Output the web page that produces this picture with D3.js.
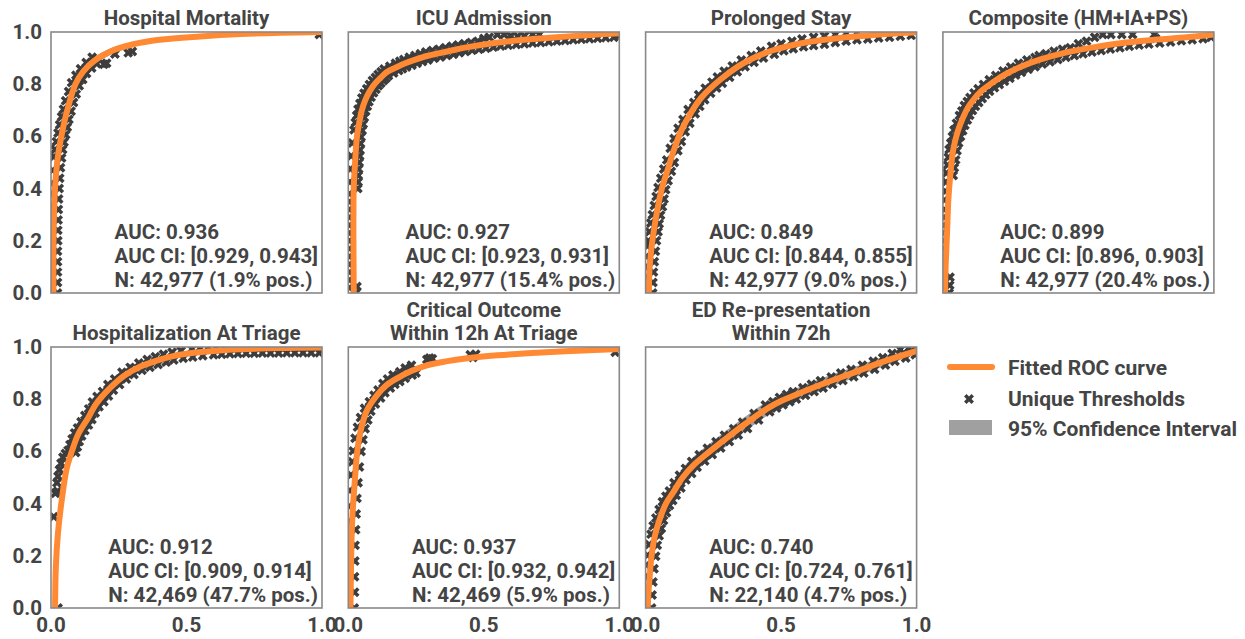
<!DOCTYPE html>
<html>
<head>
<meta charset="utf-8">
<script src="https://cdn.jsdelivr.net/npm/d3@7"></script>
<style>
  body { margin: 0; background: #fff; }
  svg text { font-family: Roboto, "Noto Sans", sans-serif; font-weight: 700; fill: #444; }
</style>
</head>
<body>
<svg id="chart" width="1245" height="639"></svg>
<script>
// ---- data ----
const titles = [
  ['Hospital Mortality'], ['ICU Admission'], ['Prolonged Stay'], ['Composite (HM+IA+PS)'],
  ['Hospitalization At Triage'], ['Critical Outcome', 'Within 12h At Triage'], ['ED Re-presentation', 'Within 72h']
];
const aucs   = [0.936, 0.927, 0.849, 0.899, 0.912, 0.937, 0.740];
const aucLo  = [0.929, 0.923, 0.844, 0.896, 0.909, 0.932, 0.724];
const aucHi  = [0.943, 0.931, 0.855, 0.903, 0.914, 0.942, 0.761];
const nCases = [42977, 42977, 42977, 42977, 42469, 42469, 22140];
const posPct = [1.9, 15.4, 9.0, 20.4, 47.7, 5.9, 4.7];

const yTicks = [0, 0.2, 0.4, 0.6, 0.8, 1.0];
const xTicks = [0, 0.5, 1.0];

// Hospital Mortality
const hmFpr = [0.009,0.009,0.011,0.016,0.025,0.04,0.06,0.09,0.12,0.16,0.23,0.3,0.4,0.55,0.7,0.85,1.0];
const hmTpr = [0,0.15,0.3,0.42,0.52,0.61,0.7,0.8,0.85,0.89,0.93,0.952,0.97,0.983,0.992,0.997,1.0];
const hmLo  = [0,0.08,0.22,0.35,0.46,0.56,0.66,0.77,0.83,0.875,0.918,0.943,0.963,0.978,0.988,0.995,1.0];
const hmHi  = [0.02,0.22,0.38,0.49,0.58,0.66,0.74,0.83,0.87,0.905,0.942,0.961,0.977,0.988,0.996,0.999,1.0];
const hmThr = [[-0.005,0.03],[-0.005,0.08],[-0.005,0.13],[-0.005,0.18],[-0.004,0.23],[-0.003,0.28],[-0.002,0.33],[0,0.38],[0.002,0.42],[0.006,0.47],[0.01,0.522],[0.015,0.55],[0.02,0.58],[0.026,0.613],[0.032,0.645],[0.039,0.675],[0.046,0.704],[0.054,0.737],[0.065,0.772],[0.076,0.806],[0.092,0.834],[0.109,0.859],[0.13,0.883],[0.152,0.903],
  [0.024,0],[0.024,0.04],[0.024,0.08],[0.024,0.12],[0.024,0.16],[0.025,0.2],[0.025,0.24],[0.026,0.28],[0.027,0.32],[0.028,0.36],[0.03,0.4],[0.032,0.44],[0.035,0.48],[0.039,0.517],[0.043,0.55],[0.048,0.578],[0.054,0.606],[0.06,0.635],[0.066,0.665],[0.074,0.696],[0.083,0.73],[0.093,0.762],[0.104,0.794],[0.117,0.818],[0.131,0.841],[0.15,0.862],[0.169,0.878],[0.195,0.876],[0.205,0.88],[0.236,0.916],[0.285,0.92],[0.3,0.925],[0.99,0.99]];

// ICU Admission
const icuFpr = [0.02,0.019,0.019,0.02,0.025,0.032,0.04,0.05,0.063,0.08,0.1,0.12,0.14,0.18,0.21,0.25,0.29,0.337,0.385,0.43,0.533,0.65,0.77,0.88,1.0];
const icuTpr = [0,0.2,0.3,0.4,0.5,0.6,0.65,0.7,0.74,0.775,0.804,0.825,0.845,0.866,0.88,0.895,0.908,0.919,0.93,0.94,0.957,0.97,0.98,0.988,0.995];
const icuLo  = [0,0.15,0.25,0.35,0.46,0.57,0.63,0.685,0.728,0.765,0.795,0.817,0.838,0.86,0.874,0.89,0.903,0.914,0.925,0.936,0.953,0.966,0.977,0.985,0.993];
const icuHi  = [0.03,0.25,0.35,0.45,0.54,0.63,0.67,0.715,0.752,0.785,0.813,0.833,0.852,0.872,0.886,0.9,0.913,0.924,0.935,0.944,0.961,0.974,0.983,0.991,0.997];
const icuThr = [[0.005,0.02],[0.005,0.05],[0.005,0.08],[0.005,0.11],[0.005,0.14],[0.005,0.17],[0.005,0.2],[0.005,0.23],[0.005,0.26],[0.005,0.29],[0.005,0.32],[0.005,0.35],[0.005,0.38],[0.006,0.425],[0.008,0.475],[0.011,0.525],[0.015,0.575],[0.021,0.625],[0.026,0.653],[0.031,0.68],[0.036,0.704],[0.043,0.726],[0.05,0.747],[0.058,0.765],[0.068,0.783],[0.078,0.799],[0.089,0.814],[0.1,0.826],[0.11,0.837],[0.121,0.848],[0.132,0.858],[0.153,0.869],[0.174,0.88],[0.19,0.888],[0.205,0.895],[0.225,0.903],[0.246,0.91],[0.266,0.917],[0.286,0.923],[0.31,0.929],[0.334,0.934],[0.358,0.94],[0.382,0.945],[0.405,0.95],[0.428,0.955],[0.453,0.96],[0.478,0.965],[0.5,0.975],[0.52,0.98],[0.55,0.99],[0.575,0.99],[0.6,0.985],[0.625,0.984],[0.65,0.985],[0.68,0.99],[0.705,0.99],[0.995,0.985],
  [0.028,0],[0.032,0.025],[0.035,0.4],[0.036,0.425],[0.037,0.45],[0.038,0.475],[0.04,0.5],[0.042,0.525],[0.043,0.548],[0.045,0.573],[0.047,0.598],[0.051,0.623],[0.055,0.647],[0.059,0.672],[0.064,0.696],[0.07,0.715],[0.076,0.733],[0.084,0.75],[0.093,0.767],[0.102,0.781],[0.111,0.794],[0.12,0.804],[0.13,0.814],[0.139,0.823],[0.148,0.832],[0.167,0.843],[0.186,0.852],[0.2,0.859],[0.215,0.866],[0.235,0.873],[0.254,0.88],[0.274,0.887],[0.294,0.893],[0.317,0.899],[0.34,0.904],[0.364,0.91],[0.388,0.915],[0.41,0.92],[0.432,0.925],[0.457,0.93],[0.482,0.934],[0.508,0.938],[0.535,0.942],[0.562,0.946],[0.59,0.949],[0.62,0.952],[0.65,0.955],[0.68,0.958],[0.71,0.96],[0.74,0.963],[0.77,0.965],[0.8,0.967],[0.83,0.97],[0.86,0.972],[0.89,0.974],[0.92,0.976],[0.95,0.978],[0.98,0.98]];

// Prolonged Stay
const psFpr = [0.012,0.015,0.025,0.04,0.06,0.081,0.105,0.133,0.17,0.207,0.274,0.36,0.47,0.58,0.7,0.8,0.9,1.0];
const psTpr = [0,0.1,0.2,0.3,0.4,0.471,0.55,0.625,0.695,0.75,0.816,0.88,0.93,0.958,0.975,0.985,0.993,0.999];
const psLo  = [0,0.07,0.17,0.27,0.375,0.45,0.53,0.607,0.68,0.737,0.805,0.871,0.923,0.952,0.97,0.981,0.99,0.998];
const psHi  = [0.03,0.13,0.23,0.33,0.425,0.49,0.57,0.643,0.71,0.763,0.827,0.889,0.937,0.964,0.98,0.989,0.996,1.0];
const psThr = [[0,0.02],[0,0.06],[0,0.1],[0.003,0.14],[0.007,0.18],[0.01,0.2],[0.014,0.235],[0.019,0.268],[0.025,0.3],[0.032,0.335],[0.039,0.37],[0.046,0.404],[0.056,0.44],[0.067,0.475],[0.078,0.51],[0.091,0.555],[0.105,0.592],[0.12,0.631],[0.138,0.665],[0.157,0.703],[0.178,0.73],[0.196,0.76],[0.22,0.785],[0.245,0.808],[0.265,0.828],[0.29,0.85],[0.32,0.87],[0.353,0.893],[0.39,0.91],[0.425,0.927],[0.465,0.945],[0.5,0.955],[0.54,0.965],[0.577,0.973],[0.62,0.98],[0.66,0.985],[0.7,0.99],[0.74,0.995],[0.78,0.997],
  [0.026,0],[0.027,0.04],[0.029,0.08],[0.032,0.12],[0.036,0.16],[0.04,0.2],[0.046,0.235],[0.05,0.265],[0.055,0.298],[0.062,0.33],[0.068,0.36],[0.074,0.396],[0.083,0.43],[0.095,0.466],[0.106,0.5],[0.119,0.545],[0.132,0.58],[0.146,0.618],[0.163,0.65],[0.183,0.687],[0.2,0.715],[0.218,0.74],[0.24,0.765],[0.262,0.785],[0.283,0.804],[0.31,0.827],[0.338,0.848],[0.367,0.867],[0.4,0.884],[0.435,0.9],[0.475,0.915],[0.51,0.928],[0.545,0.936],[0.583,0.943],[0.62,0.948],[0.66,0.953],[0.7,0.96],[0.74,0.965],[0.78,0.97],[0.82,0.973],[0.86,0.977],[0.9,0.98],[0.94,0.984],[0.98,0.987]];

// Composite (HM+IA+PS)
const coFpr = [0.008,0.01,0.012,0.016,0.02,0.028,0.038,0.055,0.075,0.092,0.112,0.14,0.18,0.23,0.285,0.36,0.445,0.55,0.655,0.78,0.9,1.0];
const coTpr = [0,0.1,0.15,0.25,0.356,0.46,0.548,0.62,0.674,0.71,0.739,0.772,0.804,0.838,0.866,0.895,0.919,0.94,0.957,0.97,0.98,0.99];
const coLo  = [0,0.06,0.11,0.21,0.32,0.43,0.525,0.602,0.66,0.698,0.729,0.763,0.796,0.831,0.86,0.89,0.915,0.936,0.954,0.967,0.978,0.988];
const coHi  = [0.03,0.14,0.19,0.29,0.39,0.49,0.57,0.638,0.688,0.722,0.749,0.781,0.812,0.845,0.872,0.9,0.923,0.944,0.96,0.973,0.982,0.992];
const coThr = [[-0.003,0.02],[-0.002,0.05],[-0.002,0.08],[-0.001,0.11],[0,0.14],[0,0.17],[0.001,0.2],[0.002,0.23],[0.003,0.26],[0.004,0.29],[0.005,0.32],[0.006,0.356],[0.009,0.39],[0.011,0.425],[0.013,0.46],[0.017,0.49],[0.02,0.52],[0.023,0.55],[0.029,0.575],[0.035,0.6],[0.041,0.625],[0.05,0.65],[0.061,0.68],[0.07,0.697],[0.079,0.718],[0.09,0.734],[0.1,0.749],[0.115,0.766],[0.13,0.783],[0.15,0.799],[0.171,0.817],[0.195,0.833],[0.222,0.851],[0.25,0.866],[0.279,0.88],[0.31,0.893],[0.34,0.902],[0.355,0.91],[0.38,0.917],[0.41,0.926],[0.441,0.934],[0.47,0.94],[0.5,0.955],[0.53,0.965],[0.56,0.98],[0.59,0.99],[0.62,0.99],[0.66,0.99],[0.7,0.99],[0.78,0.99],[0.785,0.975],[0.99,0.98],
  [0.023,0],[0.025,0.03],[0.026,0.06],[0.038,0.45],[0.042,0.48],[0.047,0.51],[0.052,0.545],[0.058,0.575],[0.065,0.6],[0.073,0.622],[0.081,0.643],[0.09,0.663],[0.099,0.681],[0.109,0.699],[0.12,0.715],[0.132,0.73],[0.145,0.745],[0.158,0.76],[0.172,0.773],[0.19,0.786],[0.208,0.799],[0.227,0.811],[0.247,0.823],[0.268,0.835],[0.29,0.846],[0.315,0.857],[0.34,0.867],[0.367,0.877],[0.395,0.886],[0.424,0.895],[0.454,0.903],[0.485,0.91],[0.517,0.917],[0.55,0.923],[0.584,0.929],[0.618,0.935],[0.653,0.94],[0.688,0.945],[0.724,0.95],[0.76,0.954],[0.8,0.958],[0.84,0.962],[0.88,0.966],[0.92,0.97],[0.96,0.974]];

// Hospitalization At Triage
const hoFpr = [0.015,0.018,0.026,0.04,0.058,0.077,0.1,0.138,0.165,0.22,0.27,0.33,0.39,0.45,0.52,0.6,0.7,0.85,1.0];
const hoTpr = [0,0.16,0.29,0.416,0.535,0.6,0.665,0.73,0.78,0.845,0.89,0.925,0.948,0.965,0.977,0.985,0.991,0.996,0.998];
const hoLo  = [0,0.13,0.26,0.39,0.515,0.585,0.653,0.72,0.771,0.838,0.884,0.92,0.944,0.962,0.974,0.983,0.989,0.995,0.997];
const hoHi  = [0.02,0.19,0.32,0.44,0.555,0.615,0.677,0.74,0.789,0.852,0.896,0.93,0.952,0.968,0.98,0.987,0.993,0.997,0.999];
const hoThr = [[0.01,0.35],[0.016,0.44],[0.024,0.447],[0.022,0.48],[0.026,0.505],[0.031,0.53],[0.037,0.555],[0.044,0.578],[0.053,0.592],[0.063,0.604],[0.07,0.626],[0.078,0.648],[0.087,0.671],[0.098,0.69],[0.111,0.714],[0.125,0.738],[0.139,0.763],[0.153,0.789],[0.17,0.81],[0.19,0.83],[0.21,0.856],[0.235,0.877],[0.262,0.903],[0.292,0.922],[0.324,0.939],[0.355,0.952],[0.385,0.963],[0.415,0.972],[0.447,0.98],[0.48,0.986],[0.52,0.992],[0.55,0.996],[0.58,0.998],[0.61,1.0],[0.64,1.0],[0.67,1.0],
  [0.026,0],[0.091,0.596],[0.097,0.617],[0.104,0.638],[0.113,0.659],[0.125,0.68],[0.138,0.701],[0.151,0.722],[0.163,0.747],[0.177,0.771],[0.195,0.79],[0.212,0.812],[0.23,0.834],[0.253,0.856],[0.278,0.877],[0.306,0.895],[0.336,0.911],[0.365,0.922],[0.395,0.933],[0.425,0.942],[0.453,0.95],[0.488,0.957],[0.523,0.962],[0.56,0.966],[0.6,0.97],[0.63,0.972],[0.66,0.974],[0.69,0.975],[0.72,0.976],[0.75,0.976],[0.78,0.977],[0.81,0.977],[0.84,0.977],[0.87,0.978],[0.9,0.978],[0.93,0.978],[0.96,0.978],[0.99,0.978]];

// Critical Outcome Within 12h At Triage
const crFpr = [0.008,0.01,0.013,0.018,0.025,0.033,0.048,0.07,0.107,0.14,0.18,0.23,0.29,0.36,0.44,0.55,0.66,0.8,1.0];
const crTpr = [0,0.15,0.3,0.4,0.5,0.6,0.69,0.76,0.817,0.853,0.88,0.907,0.93,0.945,0.957,0.968,0.976,0.984,0.992];
const crLo  = [0,0.1,0.24,0.35,0.45,0.56,0.66,0.735,0.797,0.836,0.866,0.895,0.92,0.937,0.95,0.962,0.971,0.98,0.99];
const crHi  = [0.04,0.2,0.35,0.45,0.55,0.64,0.72,0.785,0.837,0.87,0.894,0.919,0.94,0.953,0.964,0.974,0.981,0.988,0.995];
const crThr = [[-0.005,0.03],[-0.005,0.09],[-0.004,0.15],[-0.003,0.21],[-0.002,0.27],[0,0.33],[0.003,0.39],[0.006,0.45],[0.01,0.51],[0.015,0.56],[0.018,0.602],[0.025,0.65],[0.034,0.693],[0.045,0.73],[0.06,0.765],[0.078,0.79],[0.095,0.815],[0.11,0.835],[0.128,0.86],[0.145,0.877],[0.165,0.893],[0.19,0.905],[0.21,0.92],[0.233,0.93],[0.29,0.952],[0.3,0.958],[0.31,0.955],[0.45,0.97],[0.46,0.96],[0.47,0.972],[0.985,0.98],
  [0.022,0],[0.023,0.06],[0.023,0.12],[0.024,0.18],[0.025,0.24],[0.027,0.3],[0.029,0.36],[0.032,0.42],[0.036,0.48],[0.041,0.54],[0.047,0.6],[0.054,0.645],[0.062,0.687],[0.072,0.72],[0.083,0.754],[0.1,0.782],[0.119,0.805],[0.135,0.825],[0.155,0.843],[0.172,0.857],[0.19,0.868],[0.21,0.88],[0.236,0.893],[0.25,0.9]];

// ED Re-presentation Within 72h
const edFpr = [0.008,0.01,0.015,0.022,0.035,0.052,0.075,0.1,0.137,0.18,0.237,0.3,0.367,0.45,0.5,0.55,0.65,0.763,0.88,1.0];
const edTpr = [0,0.05,0.12,0.2,0.28,0.34,0.4,0.44,0.5,0.55,0.6,0.652,0.705,0.765,0.793,0.815,0.857,0.9,0.945,0.985];
const edLo  = [0,0.03,0.09,0.16,0.24,0.3,0.36,0.405,0.465,0.518,0.57,0.622,0.677,0.738,0.768,0.791,0.834,0.879,0.927,0.975];
const edHi  = [0.02,0.08,0.16,0.24,0.32,0.38,0.44,0.475,0.535,0.582,0.63,0.682,0.733,0.792,0.818,0.839,0.88,0.921,0.963,0.995];
const edThr = [[-0.004,0.02],[-0.003,0.07],[0,0.12],[0.003,0.165],[0.007,0.202],[0.013,0.243],[0.02,0.283],[0.028,0.315],[0.038,0.345],[0.05,0.377],[0.062,0.407],[0.075,0.428],[0.088,0.448],[0.105,0.48],[0.125,0.509],[0.147,0.535],[0.17,0.561],[0.198,0.587],[0.228,0.612],[0.26,0.637],[0.291,0.662],[0.325,0.687],[0.358,0.712],[0.4,0.745],[0.442,0.778],[0.47,0.79],[0.494,0.807],[0.52,0.818],[0.544,0.829],[0.58,0.844],[0.612,0.857],[0.645,0.871],[0.685,0.885],[0.72,0.9],[0.758,0.914],[0.8,0.93],[0.84,0.945],[0.875,0.959],[0.91,0.975],[0.94,0.99],[0.97,0.995],[0.995,1.0],
  [0.022,0],[0.024,0.05],[0.027,0.1],[0.031,0.15],[0.037,0.198],[0.043,0.24],[0.05,0.277],[0.058,0.305],[0.066,0.335],[0.077,0.365],[0.088,0.393],[0.1,0.412],[0.113,0.432],[0.13,0.46],[0.149,0.491],[0.17,0.515],[0.19,0.539],[0.218,0.563],[0.246,0.588],[0.277,0.613],[0.309,0.638],[0.342,0.663],[0.376,0.688],[0.417,0.72],[0.458,0.752],[0.483,0.766],[0.507,0.779],[0.532,0.79],[0.556,0.801],[0.59,0.815],[0.622,0.829],[0.655,0.843],[0.69,0.857],[0.728,0.872],[0.768,0.886],[0.805,0.9],[0.845,0.915],[0.885,0.931],[0.92,0.945],[0.96,0.958],[0.995,0.97]];

const curves = [
  [hmFpr, hmTpr, hmLo, hmHi, hmThr],
  [icuFpr, icuTpr, icuLo, icuHi, icuThr],
  [psFpr, psTpr, psLo, psHi, psThr],
  [coFpr, coTpr, coLo, coHi, coThr],
  [hoFpr, hoTpr, hoLo, hoHi, hoThr],
  [crFpr, crTpr, crLo, crHi, crThr],
  [edFpr, edTpr, edLo, edHi, edThr]
];

// ---- layout ----
const orange = '#ff8a33';
const markColor = '#3d3d3d';
const ciColor = '#a0a0a0';
const panelW = 271, panelH = 261;
const colStep = 297.3, left0 = 51;
const rowTop = [32, 347];
const fs = 20.5;

const svg = d3.select('#chart');
const xMark = d3.symbol(d3.symbolCross, 62);
const fmt1 = d3.format('.1f');
const fmtN = d3.format(',');

curves.forEach((c, i) => {
  const row = Math.floor(i / 4), col = i % 4;
  const x0 = left0 + col * colStep, y0 = rowTop[row];
  const x = d3.scaleLinear().domain([0, 1]).range([0, panelW]);
  const y = d3.scaleLinear().domain([0, 1]).range([panelH, 0]);
  const [fpr, tpr, lo, hi, thr] = c;

  const g = svg.append('g').attr('transform', `translate(${x0},${y0})`);
  const clipId = 'clip' + i;
  g.append('clipPath').attr('id', clipId)
    .append('rect').attr('width', panelW).attr('height', panelH);
  const plot = g.append('g').attr('clip-path', `url(#${clipId})`);

  // 95% CI band
  const band = d3.area()
    .x((d, k) => x(fpr[k]))
    .y0((d, k) => y(lo[k]))
    .y1((d, k) => y(hi[k]))
    .curve(d3.curveCatmullRom);
  plot.append('path').datum(fpr).attr('d', band).attr('fill', ciColor);

  // unique thresholds
  plot.selectAll('.thr').data(thr).enter().append('path')
    .attr('class', 'thr')
    .attr('d', xMark)
    .attr('transform', d => `translate(${x(d[0])},${y(d[1])}) rotate(45)`)
    .attr('fill', markColor);

  // fitted ROC curve
  const line = d3.line()
    .x((d, k) => x(fpr[k]))
    .y((d, k) => y(tpr[k]))
    .curve(d3.curveCatmullRom);
  plot.append('path').datum(fpr).attr('d', line)
    .attr('fill', 'none').attr('stroke', orange).attr('stroke-width', 6);

  // frame
  g.append('rect').attr('width', panelW).attr('height', panelH)
    .attr('fill', 'none').attr('stroke', '#888').attr('stroke-width', 1.6);

  // y tick labels only on first column
  if (col === 0) {
    g.selectAll('.yt').data(yTicks).enter().append('text')
      .attr('class', 'yt')
      .attr('x', -9).attr('y', d => y(d) + 7)
      .attr('text-anchor', 'end').style('font-size', fs + 'px')
      .text(d => fmt1(d));
  }

  // x tick labels only on bottom row
  if (row === 1) {
    g.selectAll('.xt').data(xTicks).enter().append('text')
      .attr('class', 'xt')
      .attr('x', d => x(d)).attr('y', panelH + 24)
      .attr('text-anchor', 'middle').style('font-size', fs + 'px')
      .text(d => fmt1(d));
  }

  // title
  const tl = titles[i];
  tl.forEach((t, k) => {
    g.append('text')
      .attr('x', panelW / 2).attr('y', -7 - (tl.length - 1 - k) * 23)
      .attr('text-anchor', 'middle').style('font-size', fs + 'px')
      .text(t);
  });

  // stats
  const lines = [
    `AUC: ${aucs[i].toFixed(3)}`,
    `AUC CI: [${aucLo[i].toFixed(3)}, ${aucHi[i].toFixed(3)}]`,
    `N: ${fmtN(nCases[i])} (${posPct[i].toFixed(1)}% pos.)`
  ];
  const st = g.append('g');
  const tx = st.selectAll('text').data(lines).enter().append('text')
    .attr('y', (d, k) => panelH - 6 - (2 - k) * 24)
    .style('font-size', fs + 'px')
    .text(d => d);
  let maxW = 0;
  tx.each(function() { maxW = Math.max(maxW, this.getComputedTextLength()); });
  tx.attr('x', panelW - 4 - maxW);
});

// ---- legend ----
const lg = svg.append('g').attr('transform', 'translate(948,0)');
lg.append('line').attr('x1', 2).attr('x2', 44).attr('y1', 367).attr('y2', 367)
  .attr('stroke', orange).attr('stroke-width', 6).attr('stroke-linecap', 'round');
lg.append('path').attr('d', xMark)
  .attr('transform', 'translate(21,399) rotate(45)').attr('fill', markColor);
lg.append('rect').attr('x', 1).attr('y', 420).attr('width', 43).attr('height', 15)
  .attr('fill', ciColor);
const legendLabels = ['Fitted ROC curve', 'Unique Thresholds', '95% Confidence Interval'];
lg.selectAll('.lt').data(legendLabels).enter().append('text')
  .attr('class', 'lt')
  .attr('x', 60).attr('y', (d, k) => 375 + k * 30.5)
  .style('font-size', '21px')
  .text(d => d);
</script>
</body>
</html>
